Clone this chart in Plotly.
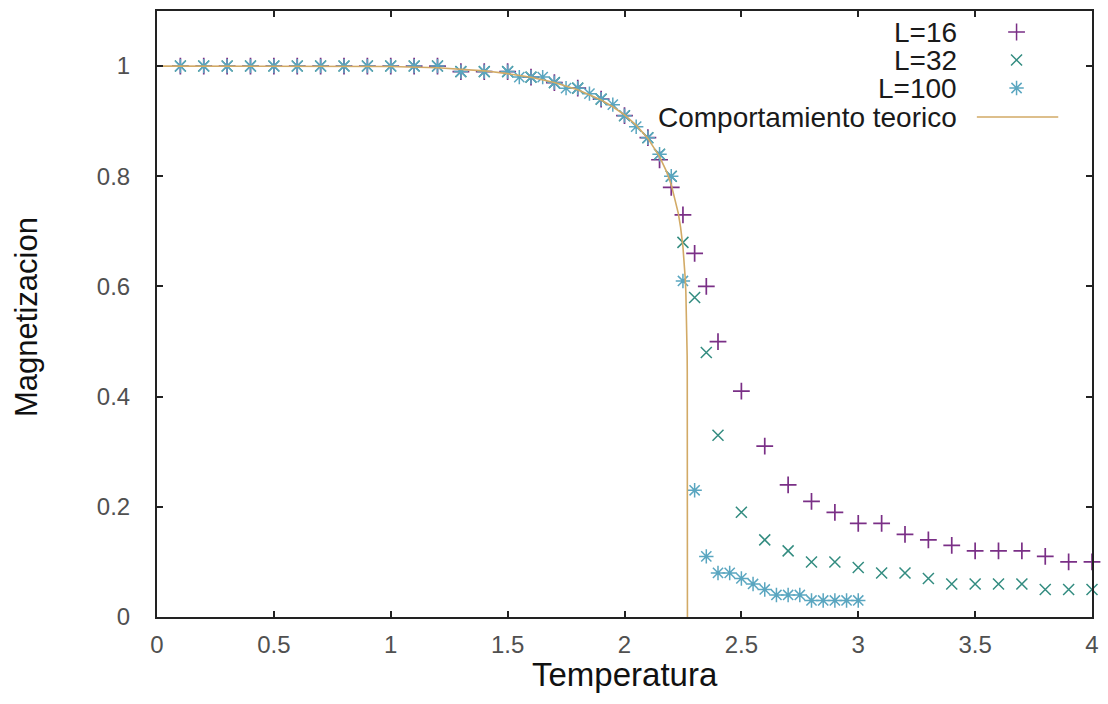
import plotly.graph_objects as go

# ---------------- data ----------------
T16 = [0.1, 0.2, 0.3, 0.4, 0.5, 0.6, 0.7, 0.8, 0.9, 1.0, 1.1, 1.2, 1.3, 1.4, 1.5,
       1.6, 1.7, 1.8, 1.9, 2.0, 2.1, 2.15, 2.2, 2.25, 2.3, 2.35, 2.4,
       2.5, 2.6, 2.7, 2.8, 2.9, 3.0, 3.1, 3.2, 3.3, 3.4, 3.5, 3.6, 3.7, 3.8, 3.9, 4.0]
M16 = [1.0, 1.0, 1.0, 1.0, 1.0, 1.0, 1.0, 1.0, 1.0, 1.0, 1.0, 1.0, 0.99, 0.99, 0.99,
       0.98, 0.97, 0.96, 0.94, 0.91, 0.87, 0.83, 0.78, 0.73, 0.66, 0.60, 0.50,
       0.41, 0.31, 0.24, 0.21, 0.19, 0.17, 0.17, 0.15, 0.14, 0.13, 0.12, 0.12, 0.12, 0.11, 0.10, 0.10]

T32 = [0.1, 0.2, 0.3, 0.4, 0.5, 0.6, 0.7, 0.8, 0.9, 1.0, 1.1, 1.2, 1.3, 1.4, 1.5,
       1.6, 1.7, 1.8, 1.9, 2.0, 2.1, 2.15, 2.2, 2.25, 2.3, 2.35, 2.4,
       2.5, 2.6, 2.7, 2.8, 2.9, 3.0, 3.1, 3.2, 3.3, 3.4, 3.5, 3.6, 3.7, 3.8, 3.9, 4.0]
M32 = [1.0, 1.0, 1.0, 1.0, 1.0, 1.0, 1.0, 1.0, 1.0, 1.0, 1.0, 1.0, 0.99, 0.99, 0.99,
       0.98, 0.97, 0.96, 0.94, 0.91, 0.87, 0.84, 0.80, 0.68, 0.58, 0.48, 0.33,
       0.19, 0.14, 0.12, 0.10, 0.10, 0.09, 0.08, 0.08, 0.07, 0.06, 0.06, 0.06, 0.06, 0.05, 0.05, 0.05]

T100 = [0.1, 0.2, 0.3, 0.4, 0.5, 0.6, 0.7, 0.8, 0.9, 1.0, 1.1, 1.2, 1.3, 1.4,
        1.5, 1.55, 1.6, 1.65, 1.7, 1.75, 1.8, 1.85, 1.9, 1.95, 2.0, 2.05, 2.1, 2.15,
        2.2, 2.25, 2.3, 2.35, 2.4, 2.45, 2.5, 2.55, 2.6, 2.65, 2.7, 2.75, 2.8, 2.85,
        2.9, 2.95, 3.0]
M100 = [1.0, 1.0, 1.0, 1.0, 1.0, 1.0, 1.0, 1.0, 1.0, 1.0, 1.0, 1.0, 0.99, 0.99,
        0.99, 0.98, 0.98, 0.98, 0.97, 0.96, 0.96, 0.95, 0.94, 0.93, 0.91, 0.89, 0.87, 0.84,
        0.80, 0.61, 0.23, 0.11, 0.08, 0.08, 0.07, 0.06, 0.05, 0.04, 0.04, 0.04, 0.03, 0.03,
        0.03, 0.03, 0.03]

T_teo = [0.0, 0.5, 1.0, 1.2, 1.3, 1.4, 1.5, 1.6, 1.7, 1.8, 1.9, 1.95, 2.0, 2.05, 2.1,
         2.15, 2.18, 2.2, 2.23, 2.24, 2.25, 2.255, 2.26, 2.2625, 2.265, 2.2665, 2.268,
         2.2685, 2.269, 2.2691, 2.26915, 2.2692]
M_teo = [1.0, 1.0, 0.9993, 0.9970, 0.9948, 0.9914, 0.9863, 0.9796, 0.9701, 0.9569, 0.9383,
         0.9262, 0.9113, 0.8928, 0.8687, 0.8357, 0.8084, 0.7848, 0.7331, 0.7073, 0.6719,
         0.6472, 0.6136, 0.5896, 0.5564, 0.5262, 0.475, 0.4437, 0.377, 0.342, 0.304, 0.0]

series_names = ["L=16", "L=32", "L=100", "Comportamiento teorico"]
x_ticks = [0, 0.5, 1, 1.5, 2, 2.5, 3, 3.5, 4]
y_ticks = [0, 0.2, 0.4, 0.6, 0.8, 1]

# ---------------- style ----------------
C16 = "#7a2f86"
C32 = "#338c80"
C100 = "#5aa6c0"
CTEO = "#d2aa66"
FONT = "Liberation Sans, Arial, sans-serif"

W, H = 1108, 704
L, R, T, B = 157, 9, 11, 87
pw, ph = W - L - R, H - T - B

def px_x(p):
    return (p - L) / pw

def px_y(p):
    return (H - B - p) / ph

fig = go.Figure()

fig.add_trace(go.Scatter(x=T16, y=M16, mode="markers", name=series_names[0], showlegend=False,
                         cliponaxis=False,
                         marker=dict(symbol="cross-thin", size=12, color=C16,
                                     line=dict(color=C16, width=1.7))))
fig.add_trace(go.Scatter(x=T32, y=M32, mode="markers", name=series_names[1], showlegend=False,
                         cliponaxis=False,
                         marker=dict(symbol="x-thin", size=11, color=C32,
                                     line=dict(color=C32, width=1.5))))
fig.add_trace(go.Scatter(x=T100, y=M100, mode="markers", name=series_names[2], showlegend=False,
                         cliponaxis=False,
                         marker=dict(symbol="asterisk", size=12, color=C100,
                                     line=dict(color=C100, width=1.5))))
fig.add_trace(go.Scatter(x=T_teo, y=M_teo, mode="lines", name=series_names[3], showlegend=False,
                         line=dict(color=CTEO, width=1.6)))

# ---------------- custom legend (text right, sample on the right) ----------------
rows_px = [32, 60, 88, 117]
text_right_px = 965
sample_px = 1023
line_px = (983, 1065)
symbols = [("cross-thin", C16, 12), ("x-thin", C32, 11), ("asterisk", C100, 12)]
for i, (sym, col, sz) in enumerate(symbols):
    fig.add_trace(go.Scatter(x=[px_x(sample_px)], y=[px_y(rows_px[i])], xaxis="x2", yaxis="y2",
                             mode="markers", showlegend=False, hoverinfo="skip", cliponaxis=False,
                             marker=dict(symbol=sym, size=sz, color=col, line=dict(color=col, width=1.5))))
fig.add_trace(go.Scatter(x=[px_x(line_px[0]), px_x(line_px[1])], y=[px_y(rows_px[3])] * 2,
                         xaxis="x2", yaxis="y2", mode="lines", showlegend=False, hoverinfo="skip",
                         line=dict(color=CTEO, width=1.6)))

annotations = []
for i, name in enumerate(series_names):
    annotations.append(dict(x=px_x(text_right_px), y=px_y(rows_px[i]), xref="paper", yref="paper",
                            text=name, showarrow=False, xanchor="right", yanchor="middle",
                            font=dict(family=FONT, size=28, color="#1a1a1a")))

# axis titles
annotations.append(dict(x=px_x(628), y=px_y(674), xref="paper", yref="paper", text="Temperatura",
                        showarrow=False, xanchor="center", yanchor="middle",
                        font=dict(family=FONT, size=33, color="#111111")))
annotations.append(dict(x=px_x(25), y=px_y(317), xref="paper", yref="paper", text="Magnetizacion",
                        showarrow=False, xanchor="center", yanchor="middle", textangle=-90,
                        font=dict(family=FONT, size=31, color="#111111")))

axis_common = dict(showgrid=False, zeroline=False, showline=True, linecolor="#222222", linewidth=2,
                   mirror="ticks", ticks="inside", ticklen=6, tickwidth=1.5, tickcolor="#222222",
                   tickfont=dict(family=FONT, size=24, color="#505050"))

fig.update_layout(
    width=W, height=H,
    margin=dict(l=L, r=R, t=T, b=B, pad=0),
    paper_bgcolor="white", plot_bgcolor="white",
    showlegend=False,
    xaxis=dict(range=[0, 4], tickvals=x_ticks, ticktext=[f"{v:g}" for v in x_ticks],
               ticklabelstandoff=5, **axis_common),
    yaxis=dict(range=[0, 1.1], tickvals=y_ticks, ticktext=[f"{v:g}" for v in y_ticks],
               ticklabelstandoff=20, **axis_common),
    xaxis2=dict(overlaying="x", anchor="y2", range=[0, 1], visible=False),
    yaxis2=dict(overlaying="y", anchor="x2", range=[0, 1], visible=False),
    annotations=annotations,
)

fig.write_html("out.html")
